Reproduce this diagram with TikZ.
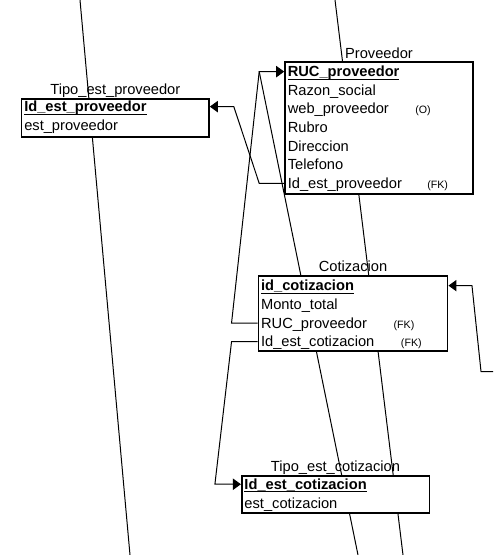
\documentclass[tikz,border=0pt]{standalone}
\usepackage{fontspec}
\setmainfont{Liberation Sans}
\usetikzlibrary{arrows.meta,calc,backgrounds}
\newcommand\pkul[1]{\setbox0\hbox{\bfseries #1}\rlap{\rule[-2.2pt]{\wd0}{0.8pt}}\box0}
\begin{document}
\begin{tikzpicture}[x=0.75pt,y=-0.75pt,
  tbl/.style={draw,line width=1.2pt,fill=white,inner sep=0pt},
  row/.style={anchor=base west,inner sep=0pt,text height=7.6pt,text depth=0pt,font=\fontsize{11}{13}\selectfont},
  ttl/.style={anchor=base,inner sep=0pt,font=\fontsize{11}{13}\selectfont},
  note/.style={anchor=base west,inner sep=0pt,font=\fontsize{8}{10}\selectfont},
  conn/.style={line width=0.75pt},
  fk/.style={conn,-{Triangle[length=6pt,width=8.5pt]}}]
\useasboundingbox (0,0) rectangle (493,555);

% Proveedor
\node[tbl,minimum width=141pt,minimum height=99pt] (prov) at (379,128) {};
\node[ttl] (provt) at (379,58.3) {Proveedor};
\node[row] (provruc) at (287.5,76.7) {\pkul{RUC\_proveedor}};
\node[row] (provraz) at (287.5,95.3) {Razon\_social};
\node[row] (provweb) at (287.5,114) {web\_proveedor};
\node[note] (provo) at (415,114) {(O)};
\node[row] (provrub) at (287.5,132.6) {Rubro};
\node[row] (provdir) at (287.5,151.2) {Direccion};
\node[row] (provtel) at (287.5,169.8) {Telefono};
\node[row] (provfk) at (287.5,188.4) {Id\_est\_proveedor};
\node[note] (provfkn) at (427,188.4) {(FK)};

% Tipo_est_proveedor
\node[tbl,minimum width=140.5pt,minimum height=28.5pt] (tp) at (115.35,118) {};
\node[ttl] (tpt) at (115.35,95) {Tipo\_est\_proveedor};
\node[row] (tpid) at (24,111.7) {\pkul{Id\_est\_proveedor}};
\node[row] (tpest) at (24,130.3) {est\_proveedor};

% Cotizacion
\node[tbl,minimum width=142pt,minimum height=55.9pt] (cot) at (353,313.55) {};
\node[ttl] (cott) at (353,271.7) {Cotizacion};
\node[row] (cotid) at (260.8,290.7) {\pkul{id\_cotizacion}};
\node[row] (cotmon) at (260.8,309.4) {Monto\_total};
\node[row] (cotruc) at (260.8,328.1) {RUC\_proveedor};
\node[note] (cotrucn) at (393.3,328.1) {(FK)};
\node[row] (cotfk) at (260.8,346.8) {Id\_est\_cotizacion};
\node[note] (cotfkn) at (400.7,346.8) {(FK)};

% Tipo_est_cotizacion
\node[tbl,minimum width=140.7pt,minimum height=27.75pt] (tc) at (335.5,494.2) {};
\node[ttl] (tct) at (335.5,471.7) {Tipo\_est\_cotizacion};
\node[row] (tcid) at (244.2,489.3) {\pkul{Id\_est\_cotizacion}};
\node[row] (tcest) at (244.2,508) {est\_cotizacion};

% connectors
\coordinate (rucj) at ($(prov.west |- provruc.west)+(-25,0)$);
\draw[fk] (prov.west |- provfk.west) -- ++(-25,0) -- ($(tp.east |- tpid.west)+(24,0)$) -- (tp.east |- tpid.west);
\draw[fk] (cot.west |- cotruc.west) -- ++(-26,0) -- (rucj) -- (prov.west |- provruc.west);
\draw[fk] (cot.west |- cotfk.west) -- ++(-26,0) -- ($(tc.west |- tcid.west)+(-26,0)$) -- (tc.west |- tcid.west);
\coordinate (offr) at (493,371.5);
\draw[fk] (offr) -- ++(-12,0) -- ($(cot.east |- cotid.west)+(23.5,0)$) -- (cot.east |- cotid.west);

\begin{scope}[on background layer]
\coordinate (atop) at (80,0);
\coordinate (abot) at (130,555);
\draw[conn] (atop) -- (abot);
\coordinate (btop) at (335,0);
\coordinate (bbot) at (403,555);
\draw[conn] (btop) -- (bbot);
\coordinate (cbot) at (358,555);
\draw[conn] (rucj) -- (cbot);
\end{scope}
\end{tikzpicture}
\end{document}
